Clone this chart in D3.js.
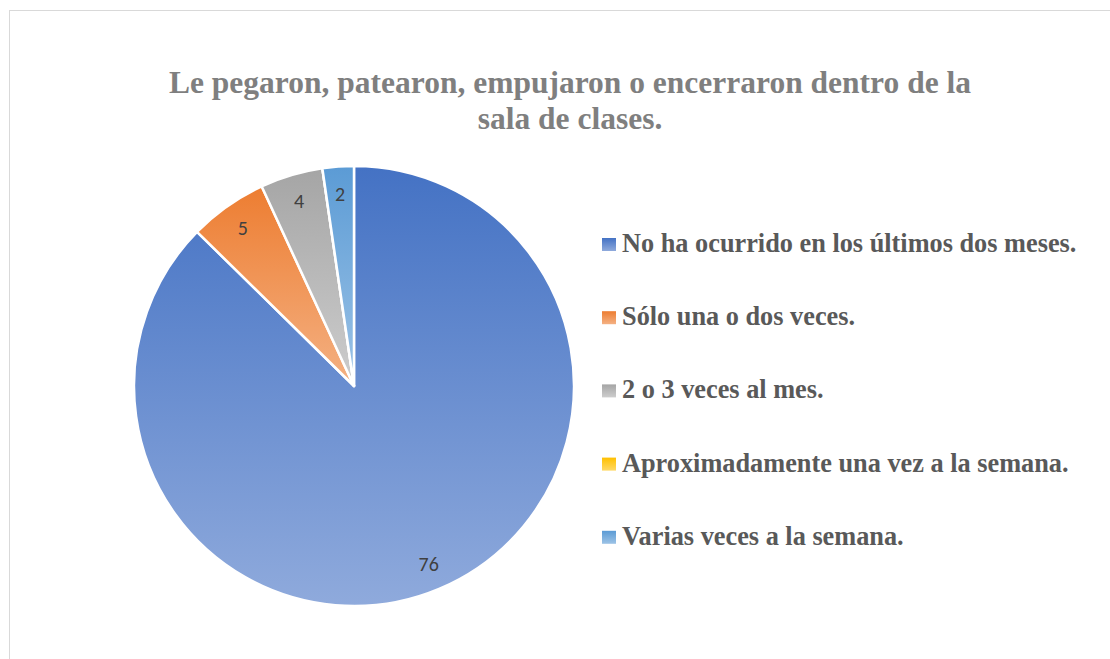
<!DOCTYPE html>
<html>
<head>
<meta charset="utf-8">
<script src="https://cdn.jsdelivr.net/npm/d3@7"></script>
<style>
  html, body { margin: 0; padding: 0; background: #fff; }
  svg { display: block; }
</style>
</head>
<body>
<svg id="chart" width="1110" height="659"></svg>
<script>
// Survey answers and their counts
const categories = [
  "No ha ocurrido en los últimos dos meses.",
  "Sólo una o dos veces.",
  "2 o 3 veces al mes.",
  "Aproximadamente una vez a la semana.",
  "Varias veces a la semana."
];
const values = [76, 5, 4, 0, 2];
const titleLines = [
  "Le pegaron, patearon, empujaron o encerraron dentro de la",
  "sala de clases."
];
// gradient stops per category: [top, bottom]
const colorStops = [
  ["#4472C4", "#8FAADC"],
  ["#ED7D31", "#F4B183"],
  ["#A5A5A5", "#CDCDCD"],
  ["#FFC000", "#FFD966"],
  ["#5B9BD5", "#9DC3E6"]
];

const svg = d3.select("#chart");
const W = 1110, H = 659;

// chart frame
svg.append("rect")
  .attr("x", 9.5).attr("y", 10.5)
  .attr("width", W + 20).attr("height", H + 20)
  .attr("fill", "#fff")
  .attr("stroke", "#d9d9d9").attr("stroke-width", 1);

const defs = svg.append("defs");
colorStops.forEach((c, i) => {
  const g = defs.append("linearGradient")
    .attr("id", "grad" + i)
    .attr("x1", 0).attr("y1", 0).attr("x2", 0).attr("y2", 1);
  g.append("stop").attr("offset", "0%").attr("stop-color", c[0]);
  g.append("stop").attr("offset", "100%").attr("stop-color", c[1]);
});

// title
svg.append("g")
  .selectAll("text")
  .data(titleLines)
  .join("text")
  .attr("x", 570)
  .attr("y", (d, i) => 93 + i * 36)
  .attr("text-anchor", "middle")
  .attr("font-family", "Liberation Serif, Times New Roman, serif")
  .attr("font-weight", "bold")
  .attr("font-size", 31.5)
  .attr("fill", "#7F7F7F")
  .text(d => d);

// pie
const cx = 354, cy = 386, r = 220;
const pie = d3.pie().sort(null).value(d => d);
const arcs = pie(values);
const arc = d3.arc().innerRadius(0).outerRadius(r);
const labelArc = d3.arc().innerRadius(r * 0.877).outerRadius(r * 0.877);

const pg = svg.append("g").attr("transform", `translate(${cx},${cy})`);
pg.selectAll("path")
  .data(arcs)
  .join("path")
  .attr("d", arc)
  .attr("fill", (d, i) => `url(#grad${i})`)
  .attr("stroke", "#fff")
  .attr("stroke-width", 2.5)
  .attr("stroke-linejoin", "round");

pg.selectAll("text")
  .data(arcs.filter(d => d.data > 0))
  .join("text")
  .attr("transform", d => `translate(${labelArc.centroid(d)})`)
  .attr("text-anchor", "middle")
  .attr("dominant-baseline", "central")
  .attr("font-family", "Carlito, Open Sans, Liberation Sans, sans-serif")
  .attr("font-size", 20)
  .attr("fill", "#404040")
  .text(d => d.data);

// legend
const lg = svg.append("g");
const items = lg.selectAll("g")
  .data(categories)
  .join("g")
  .attr("transform", (d, i) => `translate(602, ${252 + i * 73.2})`);
items.append("rect")
  .attr("x", 0).attr("y", -14)
  .attr("width", 14).attr("height", 13)
  .attr("fill", (d, i) => `url(#grad${i})`);
items.append("text")
  .attr("x", 20).attr("y", 0)
  .attr("font-family", "Liberation Serif, Times New Roman, serif")
  .attr("font-weight", "bold")
  .attr("font-size", 26.3)
  .attr("fill", "#595959")
  .text(d => d);
</script>
</body>
</html>
